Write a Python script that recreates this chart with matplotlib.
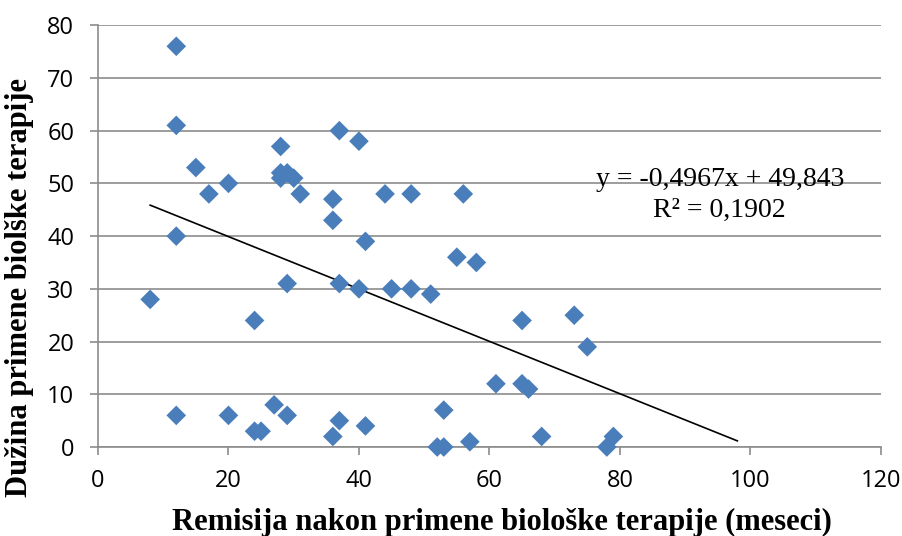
import matplotlib.pyplot as plt
import numpy as np

# remisija (meseci) / duzina primene terapije
remisija = [12, 12, 15, 17, 20, 12, 8, 24, 12, 20, 24, 25, 27, 29,
            28, 28, 29, 30, 28, 31, 29, 37, 40, 36, 36, 41, 37, 40,
            44, 48, 56, 55, 58, 45, 48, 51, 65, 73, 75, 61, 65, 66,
            53, 52, 53, 57, 68, 78, 79, 37, 36, 41]
duzina = [76, 61, 53, 48, 50, 40, 28, 24, 6, 6, 3, 3, 8, 6,
          57, 52, 52, 51, 51, 48, 31, 60, 58, 47, 43, 39, 31, 30,
          48, 48, 48, 36, 35, 30, 30, 29, 24, 25, 19, 12, 12, 11,
          7, 0, 0, 1, 2, 0, 2, 5, 2, 4]

slope = -0.4967
intercept = 49.843
r2 = 0.1902
trend_x = [min(remisija), 98]

plt.rcParams['font.family'] = ['Open Sans', 'DejaVu Sans']

fig = plt.figure(figsize=(9.03, 5.36), dpi=100)
ax = fig.add_axes([0.1085, 0.166, 0.867, 0.787])

ax.scatter(remisija, duzina, marker='D', s=100, color='#4A7EBB',
           edgecolors='none', zorder=3, clip_on=False)

tx = np.array(trend_x)
ax.plot(tx, slope * tx + intercept, color='black', linewidth=1.2, zorder=2)

ax.set_xlim(0, 120)
ax.set_ylim(0, 80)
ax.set_xticks(range(0, 121, 20))
ax.set_yticks(range(0, 81, 10))
ax.yaxis.grid(True, color='#8c8c8c', linewidth=1.2)
ax.set_axisbelow(True)
for s in ['top', 'right']:
    ax.spines[s].set_visible(False)
for s in ['left', 'bottom']:
    ax.spines[s].set_color('#8c8c8c')
    ax.spines[s].set_linewidth(1.2)
ax.tick_params(axis='x', colors='#8c8c8c', length=6, width=1.2,
               labelcolor='black', labelsize=17, pad=10)
ax.tick_params(axis='y', colors='#8c8c8c', length=6, width=1.2,
               labelcolor='black', labelsize=17, pad=11)

ax.set_xlabel('Remisija nakon primene biološke terapije (meseci)',
              family='Liberation Serif', fontweight='bold', fontsize=22)
ax.set_ylabel('Dužina primene biolške terapije',
              family='Liberation Serif', fontweight='bold', fontsize=22)
ax.xaxis.label.set_va('center')
ax.yaxis.label.set_va('center')
ax.xaxis.set_label_coords(0.516, -0.178)
ax.yaxis.set_label_coords(-0.1, 0.377)

ax.text(95.3, 50.8, 'y = -0,4967x + 49,843', family='Liberation Serif',
        fontsize=20, ha='center', va='center')
ax.text(95.3, 44.8, 'R² = 0,1902', family='Liberation Serif',
        fontsize=20, ha='center', va='center')

fig.savefig('out.png', dpi=100)
